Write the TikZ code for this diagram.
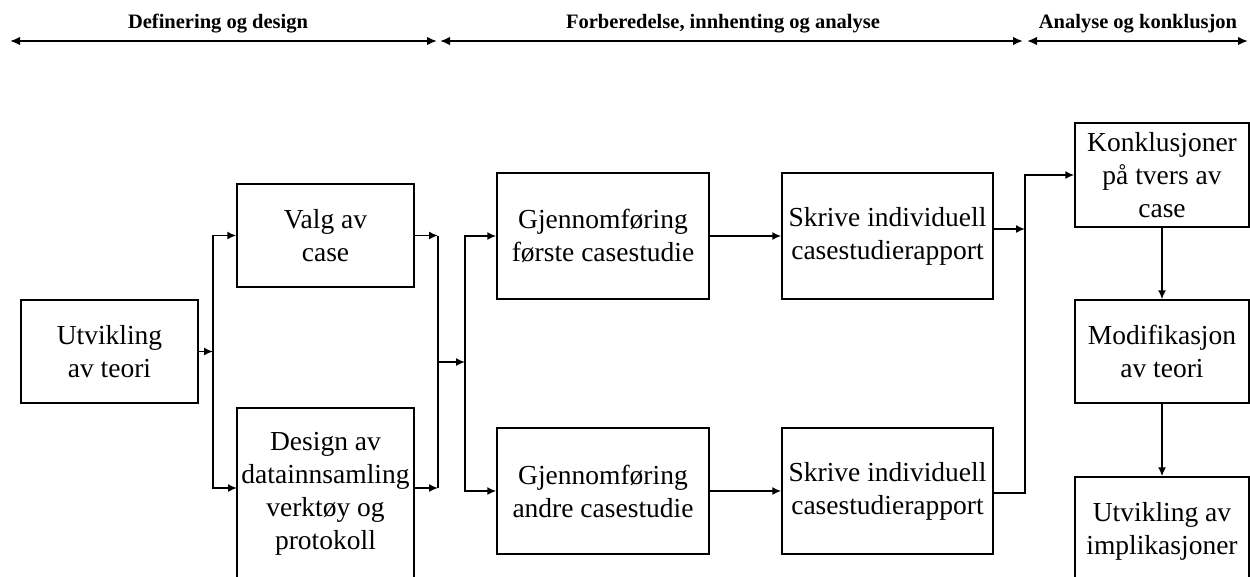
\documentclass[tikz,border=0pt]{standalone}
\usepackage{fontspec}
\setmainfont{Liberation Serif}
\usetikzlibrary{arrows.meta}
\begin{document}
\begin{tikzpicture}[x=1pt,y=-1pt,
  line width=1.6pt,
  box/.style={draw, line width=1.5pt, inner sep=0pt, align=center,
    font=\fontsize{27.5}{33}\selectfont},
  phase/.style={inner sep=0pt, anchor=base,
    font=\bfseries\fontsize{20.5}{24}\selectfont},
  arr/.style={-{Latex[length=9pt,width=8pt]}},
  span/.style={{Latex[length=10pt,width=8.5pt]}-{Latex[length=10pt,width=8.5pt]}, line width=1.8pt},
]
\useasboundingbox (0,0) rectangle (1250,576);
\clip (0,0) rectangle (1250,576);

% phase bar
\coordinate (p1a) at (10,41);   \coordinate (p1b) at (437,41);
\coordinate (p2a) at (440,41);  \coordinate (p2b) at (1023,41);
\coordinate (p3a) at (1027,41); \coordinate (p3b) at (1248,41);
\draw[span] (p1a) -- (p1b);
\draw[span] (p2a) -- (p2b);
\draw[span] (p3a) -- (p3b);
\node[phase] (ph1) at (218,28) {Definering og design};
\node[phase] (ph2) at (723,28) {Forberedelse, innhenting og analyse};
\node[phase] (ph3) at (1138,28) {Analyse og konklusjon};

% boxes
\node[box, minimum width=177pt, minimum height=103pt] (utv) at (109.5,351.5) {Utvikling\\av teori};
\node[box, minimum width=177pt, minimum height=103pt] (valg) at (325.5,235.5) {Valg av\\case};
\node[box, minimum width=177pt, minimum height=172pt] (design) at (325.5,494) {Design av\\datainnsamling\\verktøy og\\protokoll};
\node[box, minimum width=212pt, minimum height=126pt] (gj1) at (603,236) {Gjennomføring\\første casestudie};
\node[box, minimum width=212pt, minimum height=126pt] (gj2) at (603,491) {Gjennomføring\\andre casestudie};
\node[box, minimum width=211pt, minimum height=126pt] (sk1) at (887.5,236) {Skrive individuell\\casestudierapport};
\node[box, minimum width=211pt, minimum height=126pt] (sk2) at (887.5,491) {Skrive individuell\\casestudierapport};
\node[box, minimum width=174pt, minimum height=104pt] (konk) at (1162,175) {Konklusjoner\\på tvers av\\case};
\node[box, minimum width=174pt, minimum height=103pt] (modif) at (1162,351.5) {Modifikasjon\\av teori};
\node[box, minimum width=174pt, minimum height=108pt] (impl) at (1162,531) {Utvikling av\\implikasjoner};

% connectors, first phase
\coordinate (j1) at (213,351.5);
\coordinate (dIn) at (237,488);
\draw[arr] (utv.east) -- (j1);
\draw[arr] (j1) |- (valg.west);
\draw[arr] (j1) |- (dIn);

\coordinate (j2t) at (438,235.5);
\coordinate (j2b) at (438,488);
\coordinate (dOut) at (414,488);
\coordinate (j2m) at (438,362);
\coordinate (j3) at (465,362);
\draw[arr] (valg.east) -- (j2t);
\draw[arr] (dOut) -- (j2b);
\draw (j2t) -- (j2b);
\draw[arr] (j2m) -- (j3);
\draw[arr] (j3) |- (gj1.west);
\draw[arr] (j3) |- (gj2.west);

% second phase
\draw[arr] (gj1) -- (sk1);
\draw[arr] (gj2) -- (sk2);

% third phase
\coordinate (j4) at (1025,229);
\coordinate (j5) at (1025,493);
\draw[arr] (sk1.east |- j4) -- (j4);
\draw[arr] (sk2.east |- j5) -- (j5) |- (konk.west);
\draw[arr] (konk) -- (modif);
\draw[arr] (modif) -- (impl);
\end{tikzpicture}
\end{document}
